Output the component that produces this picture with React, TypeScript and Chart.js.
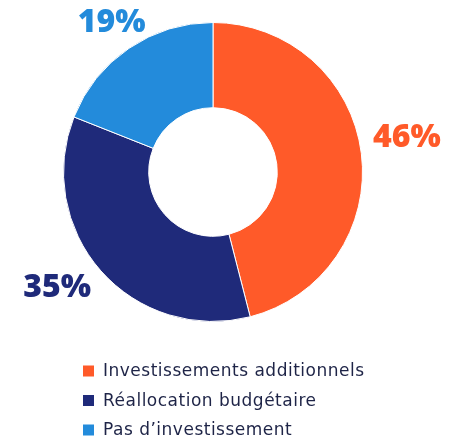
import React, { useEffect, useRef } from "react";
import { Chart, registerables } from "chart.js";

Chart.register(...registerables);

const categories = ["Investissements additionnels", "Réallocation budgétaire", "Pas d'investissement"];
const values = [46, 35, 19];
const labels = ["46%", "35%", "19%"];
const colors = ["#FF5A29", "#1F2A7A", "#238BDB"];
const labelNudges = [[1, -10], [-10, -13], [8, 12]];

const FONT = "'Open Sans', 'DejaVu Sans', sans-serif";
const LEGEND_FONT = "'DejaVu Sans', sans-serif";

const outsideLabels = {
  id: "outsideLabels",
  afterDatasetsDraw(chart: any) {
    const ctx = chart.ctx;
    const meta = chart.getDatasetMeta(0);
    ctx.save();
    meta.data.forEach((arc: any, i: number) => {
      const mid = (arc.startAngle + arc.endAngle) / 2;
      const r = arc.outerRadius + 45;
      const x = arc.x + Math.cos(mid) * r + labelNudges[i][0];
      const y = arc.y + Math.sin(mid) * r + labelNudges[i][1];
      ctx.font = `800 32px ${FONT}`;
      ctx.fillStyle = colors[i];
      ctx.textAlign = "center";
      ctx.textBaseline = "middle";
      ctx.fillText(labels[i], x, y);
    });
    // legend
    const lx = 83;
    const ly = 371;
    const gap = 29.5;
    categories.forEach((c, i) => {
      const y = ly + i * gap;
      ctx.fillStyle = colors[i];
      ctx.fillRect(lx, y - 5.5, 11, 11);
      ctx.fillStyle = "#1E2447";
      ctx.font = `17px ${LEGEND_FONT}`;
      (ctx as any).letterSpacing = "0.5px";
      ctx.textAlign = "left";
      ctx.textBaseline = "middle";
      ctx.fillText(c.replace("'", "\u2019"), lx + 20, y + 1);
      (ctx as any).letterSpacing = "0px";
    });
    ctx.restore();
  },
};

export default function App() {
  const ref = useRef<HTMLCanvasElement>(null);
  useEffect(() => {
    const chart = new Chart(ref.current!, {
      type: "doughnut",
      data: {
        labels: categories,
        datasets: [
          {
            data: values,
            backgroundColor: colors,
            borderColor: "#ffffff",
            borderWidth: 1,
          },
        ],
      },
      options: {
        animation: false,
        responsive: false,
        cutout: "43%",
        layout: { padding: { left: 63, right: 89, top: 22, bottom: 117 } },
        plugins: { legend: { display: false }, tooltip: { enabled: false } },
      },
      plugins: [outsideLabels],
    });
    return () => chart.destroy();
  }, []);
  return (
    <div style={{ position: "fixed", left: 0, top: 0, width: 452, height: 439, background: "#fff" }}>
      <canvas ref={ref} width={452} height={439} style={{ width: 452, height: 439 }} />
    </div>
  );
}
